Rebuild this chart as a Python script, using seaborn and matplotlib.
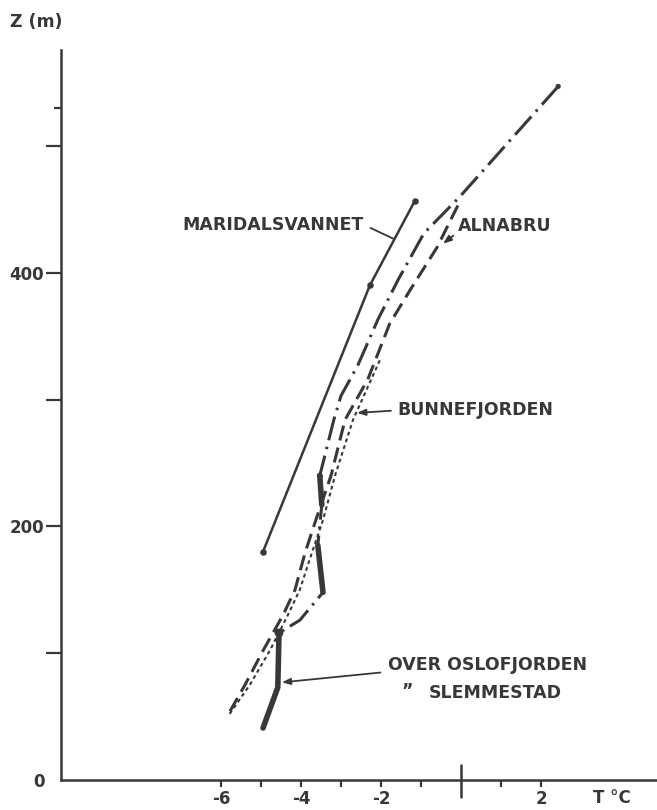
import matplotlib
matplotlib.use("Agg")
import matplotlib.pyplot as plt
import pandas as pd
import seaborn as sns

# Temperature profiles: T (°C) against height Z (m)
maridal_t = [-4.95, -2.28, -1.15]
maridal_z = [180, 390, 457]

oslo_t = [2.43, -0.03, -0.93, -1.58, -2.08, -2.58, -3.00, -3.18, -3.53, -3.48,
          -3.58, -3.45, -4.03, -4.55, -4.58, -4.95]
oslo_z = [547, 460, 431, 394, 363, 327, 303, 284, 240, 217,
          185, 148, 126, 116, 73, 41]
# stretches of the Oslofjorden / Slemmestad profile drawn as heavy solid line
oslo_solid_spans = [(8, 10), (10, 12), (13, 16)]

alnabru_t = [-0.08, -0.60, -1.28, -1.78, -2.33, -2.90, -3.25, -3.63, -3.90,
             -4.15, -4.45, -4.95, -5.40, -5.78]
alnabru_z = [453, 420, 386, 360, 316, 284, 240, 205, 179,
             150, 130, 102, 75, 54]

bunne_t = [-2.03, -2.70, -3.15, -3.45, -3.73, -4.03, -4.33, -4.78, -5.28, -5.83]
bunne_z = [331, 284, 240, 205, 179, 150, 130, 102, 75, 50]

y_ticks = [0, 100, 200, 300, 400, 500]
y_labels = ["0", "", "200", "", "400", ""]
x_major = [-6, -4, -2, 0, 2]
x_labels = ["-6", "-4", "-2", "", "2"]
x_minor = [-5, -3, -1, 1]

INK = "#383838"

sns.set_style("ticks")
plt.rcParams["font.family"] = ["DejaVu Sans"]

fig = plt.figure(figsize=(6.57, 8.10), dpi=100)
ax = fig.add_axes([61 / 657, 30 / 810, 596 / 657, 730 / 810])


def profile(t, z, **kw):
    df = pd.DataFrame({"T": t, "Z": z})
    sns.lineplot(data=df, x="T", y="Z", sort=False, estimator=None,
                 color=INK, ax=ax, **kw)


# Maridalsvannet: thin solid line with dots
profile(maridal_t, maridal_z, linewidth=1.8)
sns.scatterplot(x=maridal_t, y=maridal_z, color=INK, s=22, edgecolor=INK,
                linewidth=0, ax=ax, zorder=4)

# Over Oslofjorden / Slemmestad: dash-dot with heavy solid stretches
profile(oslo_t, oslo_z, linewidth=2.2, linestyle=(0, (8, 2.2, 0.8, 2.2)))
for a, b in oslo_solid_spans:
    profile(oslo_t[a:b], oslo_z[a:b], linewidth=4.0, solid_capstyle="round")
sns.scatterplot(x=[oslo_t[0], oslo_t[8], oslo_t[13]],
                y=[oslo_z[0], oslo_z[8], oslo_z[13]],
                color=INK, s=[14, 18, 40], edgecolor=INK, linewidth=0,
                ax=ax, zorder=4, legend=False)

# Alnabru: dashed
profile(alnabru_t, alnabru_z, linewidth=2.2, linestyle=(0, (5, 2.4)))

# Bunnefjorden: fine dotted
profile(bunne_t, bunne_z, linewidth=1.5, linestyle=(0, (1.8, 1.6)))

ax.set_xlim(-10, 4.9)
ax.set_ylim(0, 575.7)
ax.set_xlabel("")
ax.set_ylabel("")

sns.despine(ax=ax)
for s in ("left", "bottom"):
    ax.spines[s].set_color(INK)
    ax.spines[s].set_linewidth(1.8)

ax.set_yticks(y_ticks)
ax.set_yticklabels(y_labels)
ax.set_xticks(x_major)
ax.set_xticklabels(x_labels)
ax.set_xticks(x_minor, minor=True)
ax.set_yticks([530], minor=True)
ax.tick_params(axis="y", which="major", direction="out", length=11, width=1.6,
               color=INK, pad=1, labelsize=12, labelcolor=INK)
ax.tick_params(axis="y", which="minor", direction="out", length=5, width=1.6,
               color=INK)
ax.tick_params(axis="x", which="both", direction="out", length=5, width=1.6,
               color=INK, pad=2, labelsize=12, labelcolor=INK)
ax.yaxis.get_major_ticks()[0].tick1line.set_visible(False)
ax.xaxis.get_major_ticks()[3].tick1line.set_visible(False)
for lab in ax.get_yticklabels() + ax.get_xticklabels():
    lab.set_fontweight("bold")
# zero-degree mark crossing the temperature axis
ax.axvline(0, ymin=-0.023, ymax=0.02, color=INK, linewidth=1.8, clip_on=False)

lab_kw = dict(fontsize=12.5, fontweight="bold", color=INK, va="center", ha="left")

ax.annotate("MARIDALSVANNET", xy=(-1.70, 427), xytext=(-6.97, 438),
            arrowprops=dict(arrowstyle="-", color=INK, lw=1.3,
                            relpos=(1.0, 0.5), shrinkA=3, shrinkB=0), **lab_kw)
ax.annotate("ALNABRU", xy=(-0.45, 423), xytext=(-0.08, 437),
            arrowprops=dict(arrowstyle="-|>,head_length=0.4,head_width=0.15",
                            color=INK, lw=1.3, relpos=(0.0, 0.15),
                            shrinkA=1, shrinkB=0), **lab_kw)
ax.annotate("BUNNEFJORDEN", xy=(-2.60, 289.5), xytext=(-1.60, 291.5),
            arrowprops=dict(arrowstyle="-|>,head_length=0.4,head_width=0.15",
                            color=INK, lw=1.3, relpos=(0.0, 0.5),
                            shrinkA=2, shrinkB=0), **lab_kw)
ax.annotate("OVER OSLOFJORDEN", xy=(-4.48, 77), xytext=(-1.83, 91),
            arrowprops=dict(arrowstyle="-|>,head_length=0.4,head_width=0.15",
                            color=INK, lw=1.3, relpos=(0.0, 0.1),
                            shrinkA=3, shrinkB=0), **lab_kw)
ax.text(-1.50, 70, "\u201d", **lab_kw)
ax.text(-0.80, 68.5, "SLEMMESTAD", **lab_kw)

fig.text(10 / 657, 1 - 22 / 810, "Z (m)", fontsize=12.5, fontweight="bold",
         color=INK, ha="left", va="center")
fig.text(593 / 657, 1 - 798 / 810, "T °C", fontsize=12, fontweight="bold",
         color=INK, ha="left", va="center")

fig.savefig("out.png", dpi=100, facecolor="white")
